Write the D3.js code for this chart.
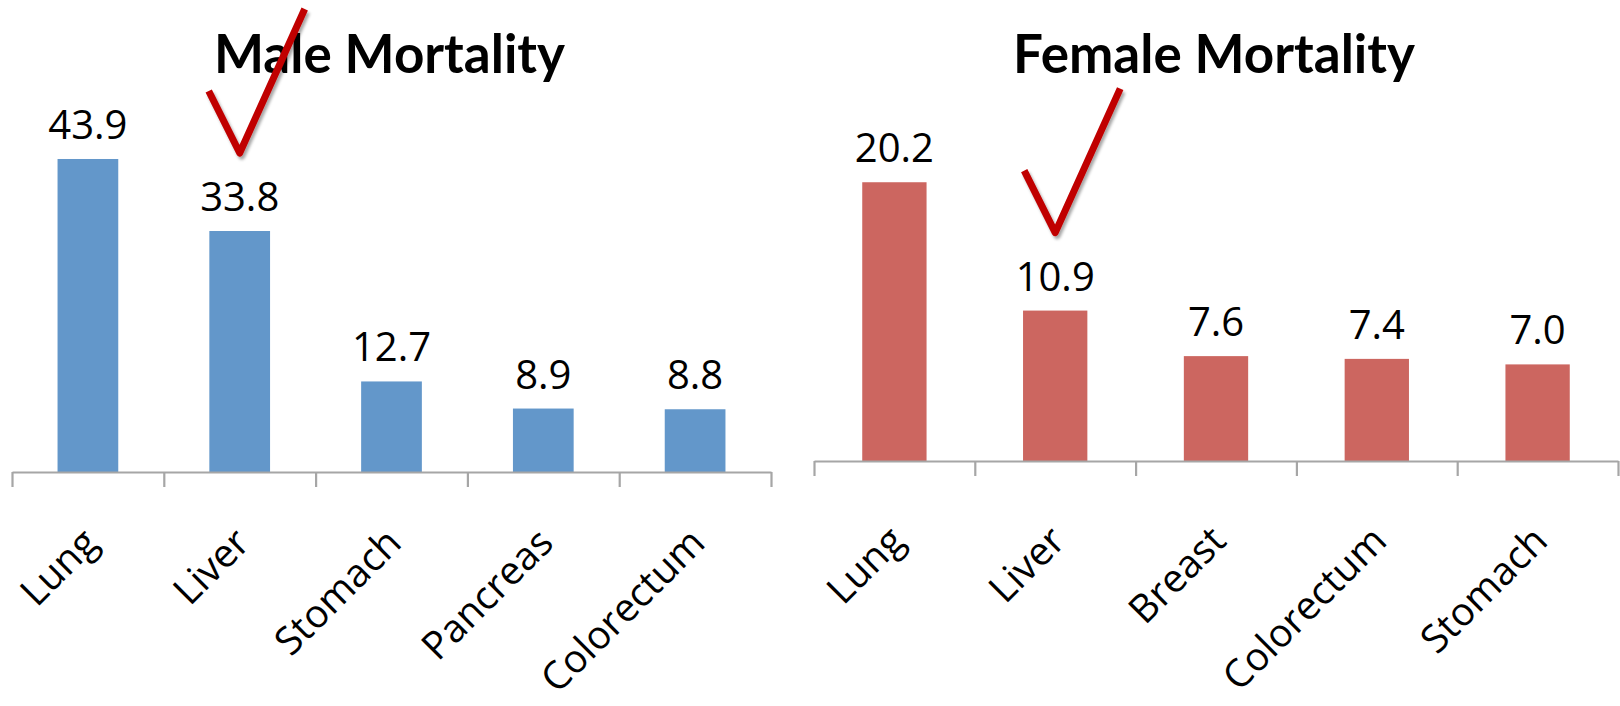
<!DOCTYPE html>
<html>
<head>
<meta charset="utf-8">
<script src="https://cdn.jsdelivr.net/npm/d3@7"></script>
<style>
  html, body { margin: 0; padding: 0; background: #fff; }
  svg { display: block; }
</style>
</head>
<body>
<svg id="chart" width="1620" height="706"></svg>
<script>
// ---- data ----
const maleTitle = "Male Mortality";
const maleCategories = ["Lung", "Liver", "Stomach", "Pancreas", "Colorectum"];
const maleValues = [43.9, 33.8, 12.7, 8.9, 8.8];
const maleAxisMax = 50;

const femaleTitle = "Female Mortality";
const femaleCategories = ["Lung", "Liver", "Breast", "Colorectum", "Stomach"];
const femaleValues = [20.2, 10.9, 7.6, 7.4, 7.0];
const femaleAxisMax = 25;

const checkedCategory = "Liver";

// ---- layout ----
const svg = d3.select("#chart");

const defs = svg.append("defs");
const f = defs.append("filter").attr("id", "shadow")
  .attr("x", "-20%").attr("y", "-20%").attr("width", "140%").attr("height", "140%");
f.append("feDropShadow").attr("dx", 2).attr("dy", 3).attr("stdDeviation", 1.6)
  .attr("flood-color", "#000").attr("flood-opacity", 0.35);

const panels = [
  { title: maleTitle, cats: maleCategories, vals: maleValues, max: maleAxisMax,
    x0: 12, x1: 771, yBase: 472, yTop: 115.5, color: "#6397CA", titleY: 73, labelY: 545 },
  { title: femaleTitle, cats: femaleCategories, vals: femaleValues, max: femaleAxisMax,
    x0: 814, x1: 1618, yBase: 461, yTop: 116, color: "#CC6660", titleY: 73, labelY: 543 }
];

const fmt = d3.format(".1f");

panels.forEach(p => {
  const g = svg.append("g");
  const x = d3.scaleBand().domain(p.cats).range([p.x0, p.x1])
    .paddingInner(0.6).paddingOuter(0.3);
  const y = d3.scaleLinear().domain([0, p.max]).range([p.yBase, p.yTop]);
  const data = p.cats.map((c, i) => ({ c, v: p.vals[i] }));

  // bars
  g.selectAll("rect.bar").data(data).join("rect")
    .attr("class", "bar")
    .attr("x", d => x(d.c))
    .attr("y", d => y(d.v))
    .attr("width", x.bandwidth())
    .attr("height", d => y(0) - y(d.v))
    .attr("fill", p.color);

  // category axis with boundary ticks
  const bx = d3.scaleLinear().domain([0, p.cats.length]).range([p.x0, p.x1]);
  const axis = g.append("g")
    .attr("transform", `translate(0,${y(0)})`)
    .call(d3.axisBottom(bx).tickValues(d3.range(p.cats.length + 1))
      .tickSize(15).tickSizeOuter(0).tickFormat(""));
  axis.select(".domain").attr("stroke", "#a6a6a6").attr("stroke-width", 2.2);
  axis.selectAll(".tick line").attr("stroke", "#a6a6a6").attr("stroke-width", 2.2);

  // category labels (rotated)
  g.selectAll("text.cat").data(data).join("text")
    .attr("class", "cat")
    .attr("transform", d => `translate(${x(d.c) + x.bandwidth() / 2 + 12},${p.labelY}) rotate(-45)`)
    .attr("text-anchor", "end")
    .attr("font-family", "'Open Sans', sans-serif")
    .attr("font-size", 39)
    .attr("fill", "#000")
    .text(d => d.c);

  // value labels
  g.selectAll("text.val").data(data).join("text")
    .attr("class", "val")
    .attr("x", d => x(d.c) + x.bandwidth() / 2)
    .attr("y", d => y(d.v) - 20)
    .attr("text-anchor", "middle")
    .attr("font-family", "'Open Sans', sans-serif")
    .attr("font-size", 40)
    .attr("fill", "#000")
    .text(d => fmt(d.v));

  // title
  g.append("text")
    .attr("x", (p.x0 + p.x1) / 2 - 2)
    .attr("y", p.titleY)
    .attr("text-anchor", "middle")
    .attr("font-family", "Lato, 'Open Sans', sans-serif")
    .attr("font-weight", "bold")
    .attr("font-size", 53)
    .attr("fill", "#000")
    .text(p.title);

  // check mark annotation over the checked category
  const checked = data.find(d => d.c === checkedCategory);
  const cx = x(checked.c) + x.bandwidth() / 2;
  const cy = y(checked.v) - 78;
  const pts = [[cx - 31, cy - 62], [cx, cy], [cx + 65, cy - 144]];
  g.append("path")
    .attr("d", d3.line()(pts))
    .attr("fill", "none")
    .attr("stroke", "#C00000")
    .attr("stroke-width", 7)
    .attr("stroke-linejoin", "round")
    .attr("filter", "url(#shadow)");
});
</script>
</body>
</html>
